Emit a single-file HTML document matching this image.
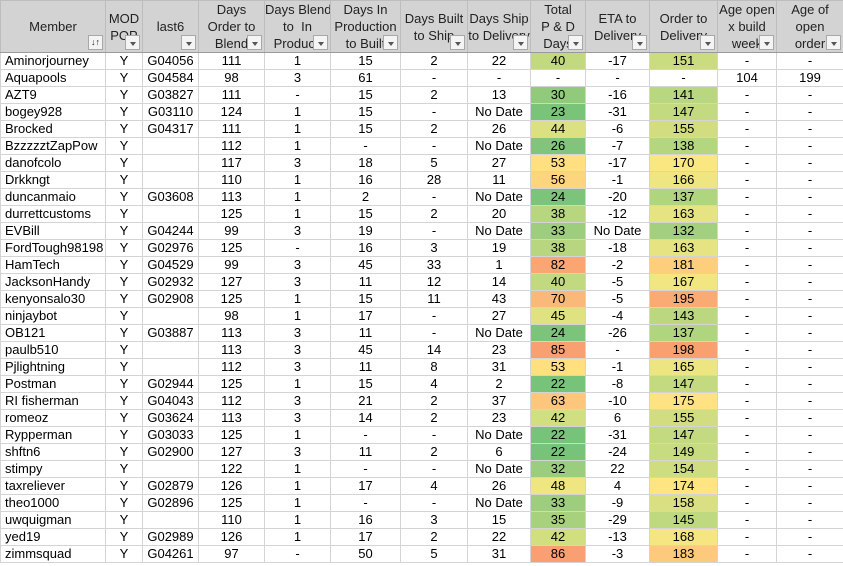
<!DOCTYPE html>
<html><head><meta charset="utf-8"><style>
body{margin:0;width:843px;height:566px;overflow:hidden;background:#fff;font-family:"Liberation Sans",sans-serif;font-size:13px;color:#000}
table{border-collapse:collapse;table-layout:fixed;width:843px}
td{height:16px;border:1px solid #d4d4d4;text-align:center;padding:0;white-space:nowrap;overflow:hidden;line-height:16px}
td.m{text-align:left;padding-left:4px}
th{height:51px;background:#d3d3d3;border:1px solid #bdbdbd;border-bottom:1px solid #9a9a9a;font-weight:normal;padding:0;position:relative;overflow:hidden;vertical-align:middle;line-height:17px;color:#222;font-size:13px}
th div.t{white-space:nowrap;overflow:hidden;max-height:51px}
th span.b{position:absolute;right:2px;bottom:2px;width:15px;height:15px;background:#f4f4f4;border:1px solid #a8a8a8;box-sizing:border-box}
th span.b:after{content:"";position:absolute;left:4px;top:6px;border-left:3px solid transparent;border-right:3px solid transparent;border-top:4px solid #555}
th span.s:after{display:none}
</style></head><body>
<table>
<colgroup><col style="width:105px"><col style="width:37px"><col style="width:56px"><col style="width:66px"><col style="width:66px"><col style="width:70px"><col style="width:67px"><col style="width:63px"><col style="width:55px"><col style="width:64px"><col style="width:68px"><col style="width:59px"><col style="width:67px"></colgroup>
<tr>
<th><div class="t">Member</div><span class="b s" style="font-size:9px;line-height:13px;text-align:center">↓↑</span></th>
<th><div class="t">MOD<br>POP</div><span class="b"></span></th>
<th><div class="t">last6</div><span class="b"></span></th>
<th><div class="t">Days<br>Order to<br>Blend</div><span class="b"></span></th>
<th><div class="t">Days Blend<br>to &nbsp;In<br>Producti</div><span class="b"></span></th>
<th><div class="t">Days In<br>Production<br>to Built</div><span class="b"></span></th>
<th><div class="t">Days Built<br>to Ship</div><span class="b"></span></th>
<th><div class="t">Days Ship<br>to Delivery</div><span class="b"></span></th>
<th><div class="t">Total<br>P &amp; D<br>Days</div><span class="b"></span></th>
<th><div class="t">ETA to<br>Delivery</div><span class="b"></span></th>
<th><div class="t">Order to<br>Delivery</div><span class="b"></span></th>
<th><div class="t">Age open<br>x build<br>week</div><span class="b"></span></th>
<th><div class="t">Age of<br>open<br>order</div><span class="b"></span></th>
</tr>
<tr><td class="m">Aminorjourney</td><td>Y</td><td>G04056</td><td>111</td><td>1</td><td>15</td><td>2</td><td>22</td><td style="background:#C2D980">40</td><td>-17</td><td style="background:#CBDC80">151</td><td>-</td><td>-</td></tr>
<tr><td class="m">Aquapools</td><td>Y</td><td>G04584</td><td>98</td><td>3</td><td>61</td><td>-</td><td>-</td><td>-</td><td>-</td><td>-</td><td>104</td><td>199</td></tr>
<tr><td class="m">AZT9</td><td>Y</td><td>G03827</td><td>111</td><td>-</td><td>15</td><td>2</td><td>13</td><td style="background:#92CA7C">30</td><td>-16</td><td style="background:#B8D77F">141</td><td>-</td><td>-</td></tr>
<tr><td class="m">bogey928</td><td>Y</td><td>G03110</td><td>124</td><td>1</td><td>15</td><td>-</td><td>No Date</td><td style="background:#7AC47A">23</td><td>-31</td><td style="background:#C3DA80">147</td><td>-</td><td>-</td></tr>
<tr><td class="m">Brocked</td><td>Y</td><td>G04317</td><td>111</td><td>1</td><td>15</td><td>2</td><td>26</td><td style="background:#DBE181">44</td><td>-6</td><td style="background:#D1DD80">155</td><td>-</td><td>-</td></tr>
<tr><td class="m">BzzzzztZapPow</td><td>Y</td><td></td><td>112</td><td>1</td><td>-</td><td>-</td><td>No Date</td><td style="background:#80C57B">26</td><td>-7</td><td style="background:#B3D67F">138</td><td>-</td><td>-</td></tr>
<tr><td class="m">danofcolo</td><td>Y</td><td></td><td>117</td><td>3</td><td>18</td><td>5</td><td>27</td><td style="background:#FFDF80">53</td><td>-17</td><td style="background:#FBE782">170</td><td>-</td><td>-</td></tr>
<tr><td class="m">Drkkngt</td><td>Y</td><td></td><td>110</td><td>1</td><td>16</td><td>28</td><td>11</td><td style="background:#FED57F">56</td><td>-1</td><td style="background:#EFE582">166</td><td>-</td><td>-</td></tr>
<tr><td class="m">duncanmaio</td><td>Y</td><td>G03608</td><td>113</td><td>1</td><td>2</td><td>-</td><td>No Date</td><td style="background:#7BC47A">24</td><td>-20</td><td style="background:#B0D57F">137</td><td>-</td><td>-</td></tr>
<tr><td class="m">durrettcustoms</td><td>Y</td><td></td><td>125</td><td>1</td><td>15</td><td>2</td><td>20</td><td style="background:#B8D67F">38</td><td>-12</td><td style="background:#E6E382">163</td><td>-</td><td>-</td></tr>
<tr><td class="m">EVBill</td><td>Y</td><td>G04244</td><td>99</td><td>3</td><td>19</td><td>-</td><td>No Date</td><td style="background:#9ECE7D">33</td><td>No Date</td><td style="background:#A2D07E">132</td><td>-</td><td>-</td></tr>
<tr><td class="m">FordTough98198</td><td>Y</td><td>G02976</td><td>125</td><td>-</td><td>16</td><td>3</td><td>19</td><td style="background:#B8D67F">38</td><td>-18</td><td style="background:#E6E382">163</td><td>-</td><td>-</td></tr>
<tr><td class="m">HamTech</td><td>Y</td><td>G04529</td><td>99</td><td>3</td><td>45</td><td>33</td><td>1</td><td style="background:#FAA574">82</td><td>-2</td><td style="background:#FDCF7D">181</td><td>-</td><td>-</td></tr>
<tr><td class="m">JacksonHandy</td><td>Y</td><td>G02932</td><td>127</td><td>3</td><td>11</td><td>12</td><td>14</td><td style="background:#C2D980">40</td><td>-5</td><td style="background:#F2E682">167</td><td>-</td><td>-</td></tr>
<tr><td class="m">kenyonsalo30</td><td>Y</td><td>G02908</td><td>125</td><td>1</td><td>15</td><td>11</td><td>43</td><td style="background:#FBB979">70</td><td>-5</td><td style="background:#FAAB74">195</td><td>-</td><td>-</td></tr>
<tr><td class="m">ninjaybot</td><td>Y</td><td></td><td>98</td><td>1</td><td>17</td><td>-</td><td>27</td><td style="background:#E0E281">45</td><td>-4</td><td style="background:#BBD880">143</td><td>-</td><td>-</td></tr>
<tr><td class="m">OB121</td><td>Y</td><td>G03887</td><td>113</td><td>3</td><td>11</td><td>-</td><td>No Date</td><td style="background:#7BC47A">24</td><td>-26</td><td style="background:#B0D57F">137</td><td>-</td><td>-</td></tr>
<tr><td class="m">paulb510</td><td>Y</td><td></td><td>113</td><td>3</td><td>45</td><td>14</td><td>23</td><td style="background:#F9A072">85</td><td>-</td><td style="background:#F9A070">198</td><td>-</td><td>-</td></tr>
<tr><td class="m">Pjlightning</td><td>Y</td><td></td><td>112</td><td>3</td><td>11</td><td>8</td><td>31</td><td style="background:#FFDF80">53</td><td>-1</td><td style="background:#ECE582">165</td><td>-</td><td>-</td></tr>
<tr><td class="m">Postman</td><td>Y</td><td>G02944</td><td>125</td><td>1</td><td>15</td><td>4</td><td>2</td><td style="background:#78C37A">22</td><td>-8</td><td style="background:#C3DA80">147</td><td>-</td><td>-</td></tr>
<tr><td class="m">RI fisherman</td><td>Y</td><td>G04043</td><td>112</td><td>3</td><td>21</td><td>2</td><td>37</td><td style="background:#FCC77C">63</td><td>-10</td><td style="background:#FFE382">175</td><td>-</td><td>-</td></tr>
<tr><td class="m">romeoz</td><td>Y</td><td>G03624</td><td>113</td><td>3</td><td>14</td><td>2</td><td>23</td><td style="background:#D2DF80">42</td><td>6</td><td style="background:#D1DD80">155</td><td>-</td><td>-</td></tr>
<tr><td class="m">Rypperman</td><td>Y</td><td>G03033</td><td>125</td><td>1</td><td>-</td><td>-</td><td>No Date</td><td style="background:#78C37A">22</td><td>-31</td><td style="background:#C3DA80">147</td><td>-</td><td>-</td></tr>
<tr><td class="m">shftn6</td><td>Y</td><td>G02900</td><td>127</td><td>3</td><td>11</td><td>2</td><td>6</td><td style="background:#78C37A">22</td><td>-24</td><td style="background:#C7DB80">149</td><td>-</td><td>-</td></tr>
<tr><td class="m">stimpy</td><td>Y</td><td></td><td>122</td><td>1</td><td>-</td><td>-</td><td>No Date</td><td style="background:#9ACD7D">32</td><td>22</td><td style="background:#CFDD80">154</td><td>-</td><td>-</td></tr>
<tr><td class="m">taxreliever</td><td>Y</td><td>G02879</td><td>126</td><td>1</td><td>17</td><td>4</td><td>26</td><td style="background:#EFE682">48</td><td>4</td><td style="background:#FFE582">174</td><td>-</td><td>-</td></tr>
<tr><td class="m">theo1000</td><td>Y</td><td>G02896</td><td>125</td><td>1</td><td>-</td><td>-</td><td>No Date</td><td style="background:#9ECE7D">33</td><td>-9</td><td style="background:#DADF81">158</td><td>-</td><td>-</td></tr>
<tr><td class="m">uwquigman</td><td>Y</td><td></td><td>110</td><td>1</td><td>16</td><td>3</td><td>15</td><td style="background:#A8D17E">35</td><td>-29</td><td style="background:#BFD980">145</td><td>-</td><td>-</td></tr>
<tr><td class="m">yed19</td><td>Y</td><td>G02989</td><td>126</td><td>1</td><td>17</td><td>2</td><td>22</td><td style="background:#D2DF80">42</td><td>-13</td><td style="background:#F5E682">168</td><td>-</td><td>-</td></tr>
<tr><td class="m">zimmsquad</td><td>Y</td><td>G04261</td><td>97</td><td>-</td><td>50</td><td>5</td><td>31</td><td style="background:#F99F72">86</td><td>-3</td><td style="background:#FDC97C">183</td><td>-</td><td>-</td></tr>
</table>
</body></html>
